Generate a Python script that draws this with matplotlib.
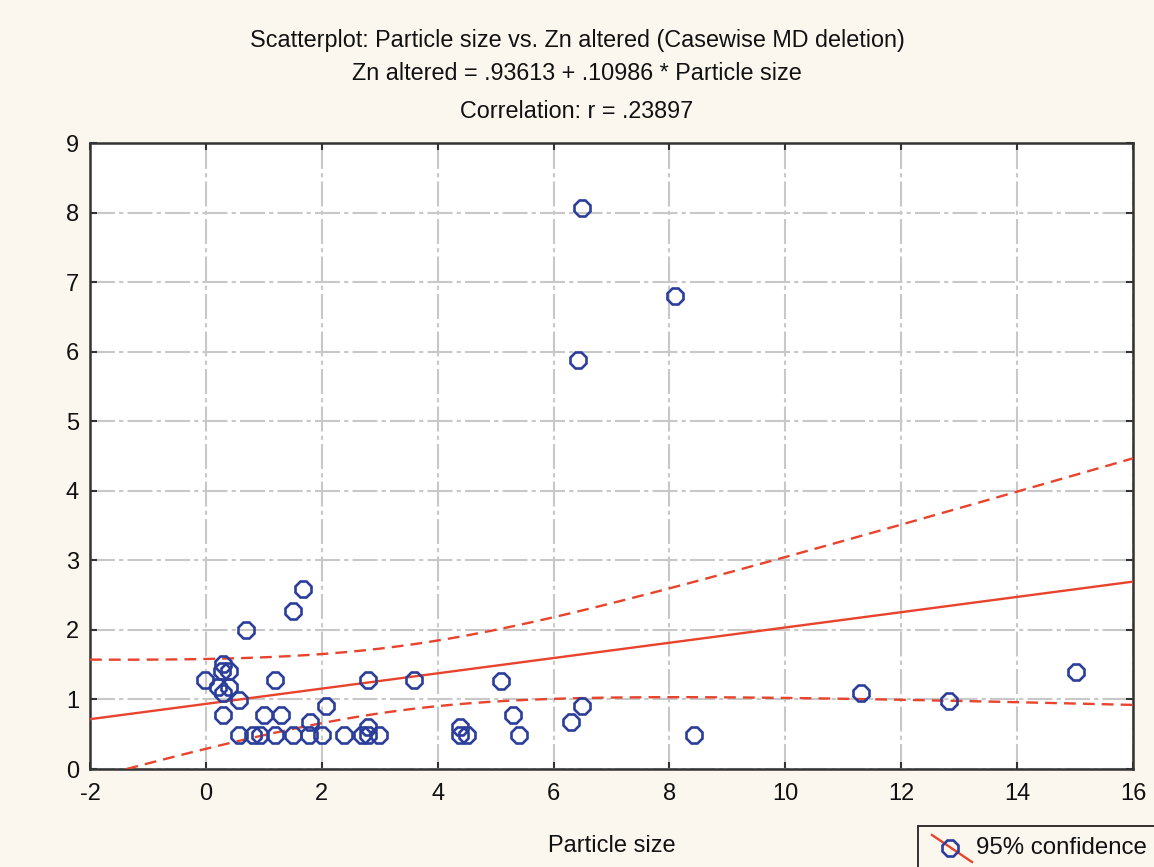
import numpy as np
import matplotlib
matplotlib.use("Agg")
import matplotlib.pyplot as plt
from matplotlib.lines import Line2D
from matplotlib.patches import Rectangle

# ---- data ----
particle_size = [6.49, 8.10, 6.42, 1.68, 1.50, 0.69, 0.29, 0.27, 0.40, -0.02,
                 0.21, 0.40, 0.29, 0.58, 0.29, 1.19, 2.80, 3.59, 5.09, 1.00,
                 1.30, 2.08, 1.80, 2.80, 0.58, 0.81, 0.93, 1.19, 1.50, 1.78,
                 2.00, 2.38, 2.69, 2.80, 2.99, 4.39, 4.38, 4.50, 5.30, 5.41,
                 6.30, 6.49, 8.42, 11.31, 12.82, 15.01]
zn_altered = [8.07, 6.80, 5.88, 2.59, 2.27, 2.00, 1.51, 1.41, 1.41, 1.28,
              1.18, 1.18, 1.09, 0.99, 0.78, 1.28, 1.28, 1.28, 1.27, 0.78,
              0.78, 0.90, 0.68, 0.61, 0.49, 0.49, 0.49, 0.49, 0.49, 0.49,
              0.49, 0.49, 0.49, 0.49, 0.49, 0.60, 0.49, 0.49, 0.78, 0.49,
              0.68, 0.90, 0.49, 1.09, 0.98, 1.40]
intercept = 0.93613
slope = 0.10986
x_ticks = [-2, 0, 2, 4, 6, 8, 10, 12, 14, 16]
y_ticks = [0, 1, 2, 3, 4, 5, 6, 7, 8, 9]

title_lines = ["Scatterplot: Particle size vs. Zn altered (Casewise MD deletion)",
               "Zn altered = .93613 + .10986 * Particle size",
               "Correlation: r = .23897"]
legend_label = "95% confidence"

RED = "#E8432C"
BLUE = "#2B3E9B"
BG = "#FBF7EF"

plt.rcParams['font.family'] = ['Liberation Sans', 'DejaVu Sans']
plt.rcParams['axes.unicode_minus'] = False

W, H = 1154, 867
fig = plt.figure(figsize=(W/100, H/100), dpi=100, facecolor=BG)
ax = fig.add_axes([90/W, 1-769/H, (1133-90)/W, (769-143)/H])
ax.set_facecolor("white")

x = np.array(particle_size)
y = np.array(zn_altered)
n = len(x)

# regression line and 95% confidence band
xs = np.linspace(-2, 16, 400)
fit = intercept + slope * xs
resid = y - (intercept + slope * x)
s = np.sqrt(np.sum(resid**2) / (n - 2))
xbar = x.mean()
sxx = np.sum((x - xbar)**2)
tval = 2.015
half = tval * s * np.sqrt(1/n + (xs - xbar)**2 / sxx)

ax.plot(xs, fit, color=RED, lw=1.7, zorder=3)
ax.plot(xs, fit + half, color=RED, lw=1.7, ls=(0, (5, 3)), zorder=3)
ax.plot(xs, fit - half, color=RED, lw=1.7, ls=(0, (5, 3)), zorder=3)

ax.plot(x, y, ls='none', marker='8', markersize=12, markerfacecolor='none',
        markeredgecolor=BLUE, markeredgewidth=1.9, zorder=4)

ax.set_xlim(-2, 16)
ax.set_ylim(0, 9)
ax.set_xticks(x_ticks)
ax.set_xticklabels([str(v) for v in x_ticks])
ax.set_yticks(y_ticks)
ax.set_yticklabels([str(v) for v in y_ticks])
ax.grid(True, color="#C8C8C8", lw=1.5, ls=(0, (12, 2, 2, 2)))
ax.set_axisbelow(True)
for sp in ax.spines.values():
    sp.set_color("#333333")
    sp.set_linewidth(1.8)
ax.tick_params(direction='in', length=5, width=1.5, colors="#333333",
               labelcolor="#111111", labelsize=17, top=True, right=True)
ax.tick_params(axis='x', pad=10)
ax.tick_params(axis='y', pad=8)

ax.set_xlabel("Particle size", fontsize=17, labelpad=22, color="#111111")

for txt, ypx in zip(title_lines, [40, 74, 112]):
    fig.text(0.5, 1-ypx/H, txt, ha='center', va='center', fontsize=16.8, color="#111111")

# legend box (bottom-right, partially cut by the figure edge)
def fx(px):
    return px / W

def fy(py):
    return 1 - py / H

fig.patches.append(Rectangle((fx(918), fy(872)), fx(1160) - fx(918), fy(826) - fy(872),
                             transform=fig.transFigure, facecolor=BG,
                             edgecolor="#222222", lw=1.3, zorder=5))
fig.add_artist(Line2D([fx(932), fx(972)], [fy(835), fy(862)], transform=fig.transFigure,
                      color=RED, lw=1.7, zorder=6))
fig.add_artist(Line2D([fx(950)], [fy(848)], transform=fig.transFigure, ls='none',
                      marker='8', markersize=12, markerfacecolor='none',
                      markeredgecolor=BLUE, markeredgewidth=1.9, zorder=7))
fig.text(fx(976), fy(848), legend_label, ha='left', va='center', fontsize=17.3,
         color="#111111", zorder=7)

fig.savefig("out.png", dpi=100, facecolor=BG)
